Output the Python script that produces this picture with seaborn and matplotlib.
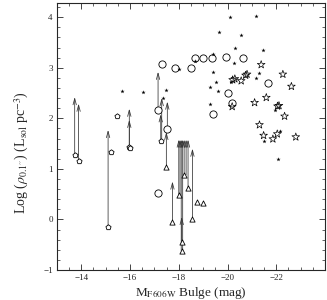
import numpy as np
import pandas as pd
import seaborn as sns
import matplotlib
matplotlib.use("Agg")
import matplotlib.pyplot as plt

# --- data ---
# small open pentagons (arrow bases, faint bulges)
pent_x = [-13.73, -13.89, -15.10, -15.22, -15.47, -15.95, -15.99, -17.26]
pent_y = [1.27, 1.15, -0.15, 1.34, 2.04, 1.43, 1.41, 1.56]

# open circles
circ_x = [-17.33, -17.84, -18.49, -18.65, -19.00, -19.36, -19.94, -20.63,
          -20.01, -20.19, -19.42, -21.66, -17.15, -17.53, -17.16]
circ_y = [3.07, 2.99, 3.00, 3.19, 3.19, 3.19, 3.21, 3.19,
          2.51, 2.31, 2.08, 2.70, 2.17, 1.78, 0.52]

# open triangles
tri_x = [-17.49, -17.74, -18.01, -18.12, -18.12, -18.22, -18.36, -18.56, -18.74, -18.98]
tri_y = [1.03, -0.06, 0.48, -0.44, -0.62, 0.88, 0.62, 0.00, 0.35, 0.32]

# small stars
sstar_x = [-15.68, -16.52, -17.46, -17.36, -18.01, -18.66, -19.39, -20.12, -21.18,
           -19.66, -20.56, -20.32, -21.45, -20.28, -19.39, -19.53, -19.29, -19.59,
           -19.29, -20.14, -21.15, -21.31, -21.96, -21.48, -22.14, -22.07]
sstar_y = [2.54, 2.52, 2.56, 2.40, 2.97, 3.14, 3.27, 4.01, 4.03,
           3.70, 3.65, 3.40, 3.35, 3.10, 2.92, 2.72, 2.61, 2.53,
           2.28, 2.72, 2.80, 2.90, 2.17, 1.55, 1.75, 1.20]

# large stars
bstar_x = [-20.21, -20.30, -20.56, -20.74, -20.80, -21.38, -21.11, -20.19, -21.59,
           -21.31, -21.48, -21.86, -22.04, -22.11, -22.05, -22.27, -22.34, -22.62, -22.80]
bstar_y = [2.76, 2.78, 2.74, 2.85, 2.87, 3.06, 2.31, 2.23, 2.41,
           1.87, 1.66, 1.59, 1.69, 2.25, 2.24, 2.87, 2.04, 2.63, 1.63]

# lower-limit arrows: x, base, tip
arr_x = [-13.73, -13.89, -15.10, -15.97, -15.97, -17.15, -17.26, -17.30, -17.53, -17.49,
         -17.74, -18.00, -18.05, -18.10, -18.12, -18.16, -18.22, -18.30, -18.38, -18.56]
arr_lo = [1.27, 1.15, -0.15, 1.43, 1.43, 2.17, 1.56, 1.56, 1.78, 1.03,
          -0.06, 0.48, 0.48, -0.62, -0.44, -0.62, 0.88, 0.88, 0.62, 0.00]
arr_hi = [2.42, 2.29, 1.77, 2.19, 1.97, 2.92, 2.08, 2.40, 2.33, 1.73,
          0.75, 1.58, 1.58, 1.58, 0.05, 1.58, 1.58, 1.58, 1.58, 1.40]

# --- style ---
sns.set_style("ticks")
plt.rcParams['font.family'] = ['Liberation Serif', 'DejaVu Serif']
plt.rcParams['mathtext.fontset'] = 'stix'

fig = plt.figure(figsize=(3.27, 3.0), dpi=100)
ax = fig.add_axes([0.174, 0.1, 0.82, 0.89])

# arrows first so markers sit on top
for x, lo, hi in zip(arr_x, arr_lo, arr_hi):
    ax.annotate("", xy=(x, hi), xytext=(x, lo),
                arrowprops=dict(arrowstyle="->,head_length=0.45,head_width=0.12",
                                lw=0.55, color="#333333", shrinkA=0, shrinkB=0))

open_kw = dict(facecolor="white", edgecolor="black", linewidth=0.6, ax=ax, legend=False, zorder=3)
sns.scatterplot(x=pent_x, y=pent_y, marker="p", s=15, **open_kw)
sns.scatterplot(x=circ_x, y=circ_y, marker="o", s=27, **open_kw)
sns.scatterplot(x=tri_x, y=tri_y, marker="^", s=14, **open_kw)
sns.scatterplot(x=sstar_x, y=sstar_y, marker="*", s=10, color="black",
                linewidth=0, ax=ax, legend=False, zorder=3)
sns.scatterplot(x=bstar_x, y=bstar_y, marker="*", s=34, facecolor="none",
                edgecolor="black", linewidth=0.5, ax=ax, legend=False, zorder=3)

ax.set_xlim(-13, -24)
ax.set_ylim(-1, 4.28)
ax.set_xticks([-14, -16, -18, -20, -22])
ax.set_yticks([-1, 0, 1, 2, 3, 4])
ax.set_xticks(np.arange(-23.5, -13, 0.5), minor=True)
ax.set_yticks(np.arange(-1, 4.3, 0.2), minor=True)
ax.tick_params(which="both", direction="in", top=True, right=True, labelsize=6.5, pad=3)
ax.tick_params(which="major", length=4, width=0.6)
ax.tick_params(which="minor", length=2, width=0.5)
for sp in ax.spines.values():
    sp.set_linewidth(0.8)

ax.set_xlabel(r"M$_{\rm F606W}$ Bulge (mag)", fontsize=9.5, labelpad=2)
ax.set_ylabel(r"Log ($\rho_{0.1''}$) (L$_{\rm sol}$ pc$^{-3}$)", fontsize=10)
ax.yaxis.set_label_coords(-0.095, 0.44)

fig.savefig("out.png", dpi=100)
